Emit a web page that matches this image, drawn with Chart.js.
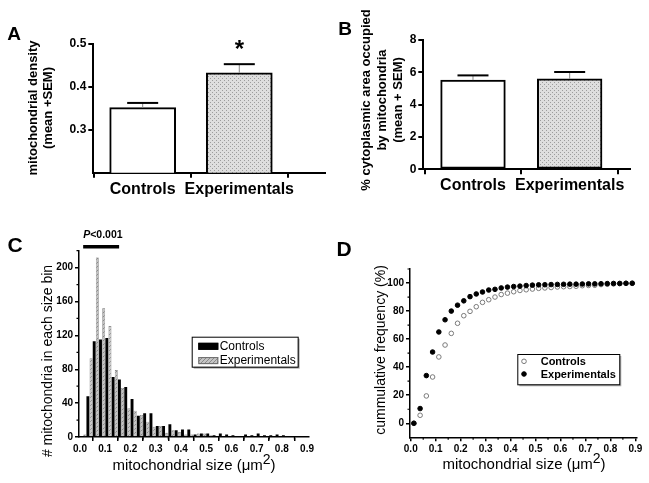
<!DOCTYPE html>
<html>
<head>
<meta charset="utf-8">
<script src="https://cdn.jsdelivr.net/npm/chart.js@4.4.1/dist/chart.umd.min.js"></script>
<style>
  body { margin: 0; width: 649px; height: 483px; background: #fff; position: relative; overflow: hidden;
         font-family: 'Liberation Sans', Arial, sans-serif; color: #000; }
  canvas { position: absolute; }
  .t { position: absolute; white-space: nowrap; transform: translate(-50%, -50%); text-align: center; }
  .r { transform: translate(-50%, -50%) rotate(-90deg); }
  .b { font-weight: bold; }
  .sup { font-size: 14px; position: relative; top: -6px; }
</style>
</head>
<body>
<canvas id="chartA" width="330" height="200" style="left:0;top:0"></canvas>
<canvas id="chartB" width="329" height="200" style="left:320px;top:0"></canvas>
<canvas id="chartC" width="325" height="283" style="left:0;top:200px"></canvas>
<canvas id="chartD" width="329" height="283" style="left:320px;top:200px"></canvas>

<div class="t b" style="left:14px;top:34px;font-size:19px">A</div>
<div class="t b" style="left:345px;top:29px;font-size:19px">B</div>
<div class="t b" style="left:15px;top:245px;font-size:21px">C</div>
<div class="t b" style="left:344px;top:249px;font-size:21px">D</div>

<div class="t r b" style="left:40px;top:108px;font-size:13px;line-height:14.5px">mitochondrial density<br>(mean +SEM)</div>
<div class="t r b" style="left:382px;top:100px;font-size:13px;line-height:16px">% cytoplasmic area occupied<br>by mitochondria<br>(mean + SEM)</div>
<div class="t r" style="left:47px;top:361px;font-size:14px"># mitochondria in each size bin</div>
<div class="t" style="left:194px;top:464px;font-size:15px">mitochondrial size (&mu;m<span class="sup">2</span>)</div>
<div class="t r" style="left:380px;top:350px;font-size:14px">cummulative frequency (%)</div>
<div class="t" style="left:524px;top:463px;font-size:15px">mitochondrial size (&mu;m<span class="sup">2</span>)</div>

<script>
// panel A / B
const groups = ['Controls', 'Experimentals'];
const densityMean = [0.351, 0.432];
const densitySem = [0.011, 0.020];
const densityMarks = ['', '*'];
const densityTicks = [0.3, 0.4, 0.5];
const areaMean = [5.52, 5.60];
const areaSem = [0.29, 0.42];
const areaTicks = [0, 2, 4, 6, 8];

// panel C / D (bin centres, um^2)
const sizeBins = [0.0125, 0.0375, 0.0625, 0.0875, 0.1125, 0.1375, 0.1625, 0.1875, 0.2125, 0.2375,
  0.2625, 0.2875, 0.3125, 0.3375, 0.3625, 0.3875, 0.4125, 0.4375, 0.4625, 0.4875,
  0.5125, 0.5375, 0.5625, 0.5875, 0.6125, 0.6375, 0.6625, 0.6875, 0.7125, 0.7375,
  0.7625, 0.7875, 0.8125, 0.8375, 0.8625, 0.8875];
const controlsCount = [0, 48, 113, 115, 117, 71, 68, 59, 45, 25, 28, 28, 13, 13, 15, 8, 9, 9,
  3, 4, 4, 2, 4, 3, 2, 1, 3, 2, 4, 2, 2, 3, 2, 1, 1, 1];
const expCount = [3, 93, 212, 152, 131, 79, 58, 34, 31, 26, 18, 12, 13, 5, 8, 6, 3, 3,
  4, 4, 2, 1, 1, 1, 1, 1, 0, 1, 1, 0, 1, 1, 1, 0, 0, 0];
const controlsCum = [0, 5.7, 19.5, 33, 47.3, 55.8, 64.1, 71.3, 76.7, 79.8, 83.1, 86.2, 88.1, 90, 91.8, 92.8,
  93.8, 94.7, 95.2, 95.7, 96.2, 96.5, 96.8, 97.2, 97.4, 97.5, 97.7, 98.1, 98.3, 98.4, 98.9, 99.1,
  99.4, 99.6, 99.8, 99.9];
const expCum = [0, 10.5, 34, 50.8, 65.1, 73.8, 80, 84.2, 87.3, 90.3, 92.2, 93.6, 95, 95.5, 96.5, 97.1,
  97.5, 97.8, 98.2, 98.5, 98.7, 98.8, 98.9, 99, 99.1, 99.2, 99.2, 99.3, 99.4, 99.4, 99.5, 99.6,
  99.7, 99.7, 99.8, 99.8];
const sizeTicks = [0, 0.1, 0.2, 0.3, 0.4, 0.5, 0.6, 0.7, 0.8, 0.9];
const sizeMinor = [0.05, 0.15, 0.25, 0.35, 0.45, 0.55, 0.65, 0.75, 0.85];
const countTicks = [0, 40, 80, 120, 160, 200];
const countMinor = [20, 60, 100, 140, 180, 220];
const cumTicks = [0, 20, 40, 60, 80, 100];
const cumMinor = [10, 30, 50, 70, 90, 110];
const sigRange = [0.0125, 0.155];
const sigLevel = 224.8;
const sigText = ['P', '<0.001'];

const FONT = "'Liberation Sans', Arial, sans-serif";

// fill patterns
function makePattern(bg, fg, dots) {
  const c = document.createElement('canvas');
  c.width = 4; c.height = 4;
  const g = c.getContext('2d');
  g.fillStyle = bg;
  g.fillRect(0, 0, 4, 4);
  g.fillStyle = fg;
  dots.forEach(d => g.fillRect(d[0], d[1], 1, 1));
  return g.createPattern(c, 'repeat');
}
const stipple = makePattern('#dedede', '#9c9c9c', [[0, 0], [2, 2]]);
const hatch = makePattern('#c4c4c4', '#8a8a8a', [[0, 3], [1, 2], [2, 1], [3, 0]]);

// error bars + significance star for the mean plots
const errorBars = {
  id: 'errorBars',
  afterDatasetsDraw(chart, args, o) {
    if (!o.sem) return;
    const { ctx, scales: { y } } = chart;
    const ds = chart.data.datasets[0];
    ctx.save();
    chart.getDatasetMeta(0).data.forEach((bar, i) => {
      const top = y.getPixelForValue(ds.data[i].y + o.sem[i]);
      ctx.strokeStyle = '#888';
      ctx.lineWidth = 1;
      ctx.beginPath(); ctx.moveTo(bar.x, bar.y); ctx.lineTo(bar.x, top); ctx.stroke();
      ctx.strokeStyle = '#000';
      ctx.lineWidth = 2;
      ctx.beginPath(); ctx.moveTo(bar.x - o.cap / 2, top); ctx.lineTo(bar.x + o.cap / 2, top); ctx.stroke();
      if (o.marks && o.marks[i]) {
        ctx.fillStyle = '#000';
        ctx.font = 'bold 24px ' + FONT;
        ctx.textAlign = 'center';
        ctx.textBaseline = 'alphabetic';
        ctx.fillText(o.marks[i], bar.x, top - 7.5);
      }
    });
    ctx.restore();
  }
};

// short minor ticks (Origin style)
const minorTicks = {
  id: 'minorTicks',
  afterDraw(chart, args, o) {
    if (!o.len) return;
    const { ctx, chartArea: a, scales: { x, y } } = chart;
    ctx.save();
    ctx.strokeStyle = '#000';
    ctx.lineWidth = 1.2;
    ctx.beginPath();
    (o.x || []).forEach(v => { const p = x.getPixelForValue(v); ctx.moveTo(p, a.bottom); ctx.lineTo(p, a.bottom + o.len); });
    (o.y || []).forEach(v => { const p = y.getPixelForValue(v); ctx.moveTo(a.left, p); ctx.lineTo(a.left - o.len, p); });
    ctx.stroke();
    ctx.restore();
  }
};

// boxed legend inside the plot
const boxLegend = {
  id: 'boxLegend',
  afterDraw(chart, args, o) {
    if (!o.box) return;
    const ctx = chart.ctx;
    const [bx, by, bw, bh] = o.box;
    ctx.save();
    ctx.fillStyle = '#b0b0b0';
    ctx.fillRect(bx + 2, by + 2, bw, bh);
    ctx.fillStyle = '#fff';
    ctx.fillRect(bx, by, bw, bh);
    ctx.strokeStyle = '#000';
    ctx.lineWidth = 1;
    ctx.strokeRect(bx + 0.5, by + 0.5, bw, bh);
    ctx.font = o.font;
    ctx.textBaseline = 'middle';
    chart.data.datasets.forEach((ds, i) => {
      const cy = by + o.first + i * o.row;
      if (chart.config.type === 'bar') {
        ctx.fillStyle = ds.backgroundColor;
        ctx.fillRect(bx + o.mx, cy - 3.5, 20, 7);
        ctx.strokeStyle = ds.borderColor;
        ctx.strokeRect(bx + o.mx + 0.5, cy - 3, 19, 6);
      } else {
        ctx.beginPath();
        ctx.arc(bx + o.mx, cy, ds.pointRadius, 0, Math.PI * 2);
        ctx.fillStyle = ds.pointBackgroundColor;
        ctx.fill();
        ctx.strokeStyle = ds.pointBorderColor;
        ctx.lineWidth = ds.pointBorderWidth;
        ctx.stroke();
      }
      ctx.fillStyle = '#000';
      ctx.fillText(ds.label, bx + o.tx, cy + 0.5);
    });
    ctx.restore();
  }
};

// P value bar over the first bins
const sigBar = {
  id: 'sigBar',
  afterDraw(chart, args, o) {
    if (!o.range) return;
    const { ctx, scales: { x, y } } = chart;
    const x0 = x.getPixelForValue(o.range[0]);
    const x1 = x.getPixelForValue(o.range[1]);
    const py = y.getPixelForValue(o.level);
    ctx.save();
    ctx.strokeStyle = '#000';
    ctx.lineWidth = 3.5;
    ctx.beginPath(); ctx.moveTo(x0, py); ctx.lineTo(x1, py); ctx.stroke();
    ctx.fillStyle = '#000';
    ctx.textBaseline = 'alphabetic';
    ctx.font = 'italic bold 10.5px ' + FONT;
    ctx.fillText(o.text[0], x0, py - 8.2);
    const w = ctx.measureText(o.text[0]).width;
    ctx.font = 'bold 10.5px ' + FONT;
    ctx.fillText(o.text[1], x0 + w, py - 8.2);
    ctx.restore();
  }
};

function axis(extra, tickVals, fmt, size, tickLen, lw, fit) {
  return Object.assign({
    afterBuildTicks: s => { s.ticks = tickVals.map(v => ({ value: v })); },
    afterFit: fit,
    ticks: { callback: fmt, color: '#000', font: { family: FONT, size: size, weight: 'bold' }, padding: 2, autoSkip: false, maxRotation: 0 },
    grid: { drawOnChartArea: false, drawTicks: true, tickLength: tickLen, color: '#000', lineWidth: lw },
    border: { color: '#000', width: lw }
  }, extra);
}

function meanPanel(el, means, sems, marks, yTicks, yRange, xRange, g) {
  return new Chart(el, {
    type: 'bar',
    data: {
      datasets: [{
        data: means.map((m, i) => ({ x: i, y: m })),
        backgroundColor: ['#fff', stipple],
        borderColor: '#000',
        borderWidth: 2,
        borderSkipped: false,
        barThickness: g.barW
      }]
    },
    options: {
      responsive: false,
      animation: false,
      layout: { padding: g.pad },
      plugins: {
        legend: { display: false },
        tooltip: { enabled: false },
        errorBars: { sem: sems, marks: marks, cap: 31 }
      },
      scales: {
        x: axis({ type: 'linear', offset: false, min: xRange[0], max: xRange[1] },
          [0, 1], v => groups[v], 16, 5, 2, s => { s.height = g.xh; }),
        y: axis({ min: yRange[0], max: yRange[1] },
          yTicks, g.fmt, 12, 5, 2, s => { s.width = g.yw; })
      }
    },
    plugins: [errorBars]
  });
}

meanPanel(document.getElementById('chartA'), densityMean, densitySem, densityMarks, densityTicks,
  [0.2, 0.5], [-0.511, 1.887],
  { barW: 66, pad: { left: 0, top: 43.5, right: 5, bottom: 0 }, yw: 93.3, xh: 27.3, fmt: v => v.toFixed(1) });

meanPanel(document.getElementById('chartB'), areaMean, areaSem, ['', ''], areaTicks,
  [0, 8], [-0.514, 1.624],
  { barW: 64.7, pad: { left: 0, top: 40, right: 19, bottom: 0 }, yw: 103.3, xh: 30.7, fmt: v => String(v) });

// C: histogram
new Chart(document.getElementById('chartC'), {
  type: 'bar',
  data: {
    datasets: [
      {
        label: 'Controls',
        data: sizeBins.map((x, i) => ({ x: x, y: controlsCount[i] })),
        backgroundColor: '#000',
        borderColor: '#000',
        borderWidth: 0,
        categoryPercentage: 1,
        barPercentage: 0.92
      },
      {
        label: 'Experimentals',
        data: sizeBins.map((x, i) => ({ x: x, y: expCount[i] })),
        backgroundColor: hatch,
        borderColor: '#6a6a6a',
        borderWidth: 0.6,
        categoryPercentage: 1,
        barPercentage: 0.92
      }
    ]
  },
  options: {
    responsive: false,
    animation: false,
    layout: { padding: { left: 0, top: 50.7, right: 16.7, bottom: 0 } },
    plugins: {
      legend: { display: false },
      tooltip: { enabled: false },
      minorTicks: { len: 2.5, x: sizeMinor, y: countMinor },
      boxLegend: { box: [191.7, 136.7, 106, 30], first: 9.6, row: 14.3, mx: 6.6, tx: 28, font: '12px ' + FONT },
      sigBar: { range: sigRange, level: sigLevel, text: sigText }
    },
    scales: {
      x: axis({ type: 'linear', offset: false, min: -0.004, max: 0.905 },
        sizeTicks, v => v.toFixed(1), 10, 4, 1.5, s => { s.height = 46; }),
      y: axis({ min: 0, max: 220 },
        countTicks, v => String(v), 10, 4, 1.5, s => { s.width = 79; })
    }
  },
  plugins: [minorTicks, boxLegend, sigBar]
});

// D: cumulative frequency
new Chart(document.getElementById('chartD'), {
  type: 'scatter',
  data: {
    datasets: [
      {
        label: 'Controls',
        data: sizeBins.map((x, i) => ({ x: x, y: controlsCum[i] })),
        pointRadius: 2.3,
        pointBackgroundColor: '#fff',
        pointBorderColor: '#7a7a7a',
        pointBorderWidth: 1,
        order: 2
      },
      {
        label: 'Experimentals',
        data: sizeBins.map((x, i) => ({ x: x, y: expCum[i] })),
        pointRadius: 2.3,
        pointBackgroundColor: '#000',
        pointBorderColor: '#000',
        pointBorderWidth: 1,
        order: 1
      }
    ]
  },
  options: {
    responsive: false,
    animation: false,
    layout: { padding: { left: 0, top: 69, right: 12.4, bottom: 0 } },
    plugins: {
      legend: { display: false },
      tooltip: { enabled: false },
      minorTicks: { len: 2.5, x: sizeMinor, y: cumMinor },
      boxLegend: { box: [197.3, 154, 102, 30.3], first: 7.3, row: 12.7, mx: 6.7, tx: 23.4, font: 'bold 11px ' + FONT }
    },
    scales: {
      x: axis({ type: 'linear', min: -0.003, max: 0.905 },
        sizeTicks, v => v.toFixed(1), 10, 4, 1.5, s => { s.height = 45.7; }),
      y: axis({ min: -10, max: 110 },
        cumTicks, v => String(v), 10, 4, 1.5, s => { s.width = 90; })
    }
  },
  plugins: [minorTicks, boxLegend]
});
</script>
</body>
</html>
